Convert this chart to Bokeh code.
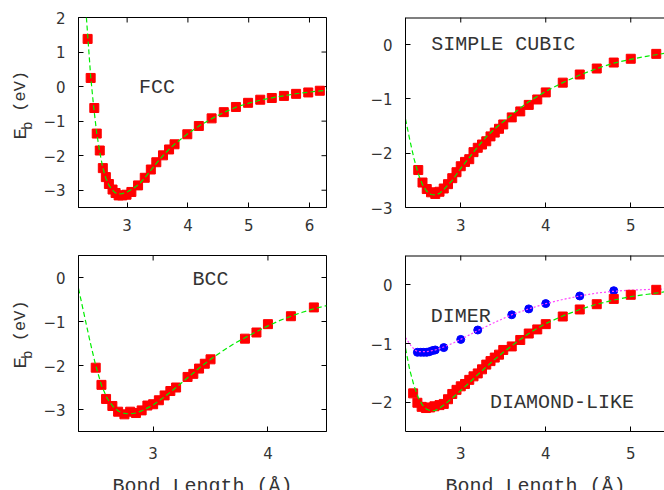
import math
from bokeh.plotting import figure
from bokeh.models import FixedTicker, Label, Range1d, CustomJSTickFormatter
from bokeh.layouts import column, row
from bokeh.embed import file_html
from bokeh.resources import INLINE
from bokeh.core.properties import value

# ---------------- data ----------------
# FCC
fcc_x = [2.35, 2.40, 2.46, 2.50, 2.55, 2.60, 2.65, 2.70, 2.76, 2.81, 2.86, 2.92, 2.99, 3.07,
         3.18, 3.29, 3.39, 3.48, 3.59, 3.69, 3.78, 3.99, 4.18, 4.39, 4.59, 4.79, 4.99, 5.19,
         5.38, 5.58, 5.78, 5.98, 6.17]
fcc_y = [1.38, 0.25, -0.62, -1.36, -1.85, -2.36, -2.62, -2.82, -2.98, -3.08, -3.15, -3.15, -3.13, -3.05,
         -2.86, -2.64, -2.40, -2.19, -1.99, -1.82, -1.67, -1.38, -1.14, -0.92, -0.74, -0.59, -0.47, -0.38,
         -0.33, -0.27, -0.21, -0.17, -0.12]
fcc_fit_x = [2.33, 2.40, 2.45, 2.50, 2.55, 2.60, 2.65, 2.70, 2.75, 2.80, 2.86, 2.92, 3.0, 3.1, 3.2,
             3.3, 3.4, 3.5, 3.6, 3.7, 3.8, 4.0, 4.2, 4.4, 4.6, 4.8, 5.0, 5.2, 5.4, 5.6, 5.8, 6.0, 6.3]
fcc_fit_y = [2.0, 0.3, -0.6, -1.35, -1.9, -2.35, -2.65, -2.85, -2.98, -3.07, -3.11, -3.10, -3.05, -2.95,
             -2.82, -2.62, -2.40, -2.18, -1.98, -1.80, -1.64, -1.36, -1.12, -0.92, -0.74, -0.59, -0.48,
             -0.39, -0.32, -0.26, -0.20, -0.16, -0.10]

# SIMPLE CUBIC
sc_x = [2.50, 2.55, 2.60, 2.65, 2.70, 2.75, 2.80, 2.85, 2.90, 2.95, 3.00, 3.05, 3.10, 3.15, 3.20,
        3.25, 3.30, 3.35, 3.40, 3.45, 3.50, 3.60, 3.70, 3.80, 3.90, 4.00, 4.20, 4.40, 4.60, 4.80,
        5.00, 5.30]
sc_y = [-2.31, -2.54, -2.66, -2.72, -2.75, -2.71, -2.65, -2.57, -2.46, -2.35, -2.24, -2.16, -2.11,
        -1.98, -1.90, -1.84, -1.78, -1.69, -1.62, -1.55, -1.47, -1.34, -1.23, -1.11, -1.01, -0.88,
        -0.70, -0.55, -0.44, -0.33, -0.26, -0.17]
sc_fit_x = [2.35, 2.40, 2.45, 2.50, 2.55, 2.60, 2.65, 2.70, 2.75, 2.80, 2.9, 3.0, 3.1, 3.2, 3.3,
            3.4, 3.5, 3.6, 3.7, 3.8, 4.0, 4.2, 4.4, 4.6, 4.8, 5.0, 5.2, 5.4]
sc_fit_y = [-1.37, -1.75, -2.10, -2.38, -2.58, -2.70, -2.76, -2.77, -2.74, -2.67, -2.50, -2.28,
            -2.08, -1.88, -1.70, -1.55, -1.42, -1.29, -1.17, -1.05, -0.86, -0.70, -0.56, -0.44,
            -0.34, -0.27, -0.21, -0.16]

# BCC
bcc_x = [2.50, 2.55, 2.59, 2.645, 2.695, 2.75, 2.80, 2.85, 2.90, 2.95, 3.00, 3.05, 3.10, 3.15,
         3.20, 3.30, 3.35, 3.40, 3.45, 3.50, 3.80, 3.90, 4.00, 4.20, 4.40]
bcc_y = [-2.05, -2.44, -2.76, -2.92, -3.05, -3.11, -3.05, -3.08, -3.02, -2.91, -2.88, -2.79, -2.68,
         -2.58, -2.50, -2.26, -2.19, -2.07, -1.96, -1.86, -1.39, -1.25, -1.06, -0.88, -0.68]
bcc_fit_x = [2.35, 2.40, 2.45, 2.50, 2.55, 2.60, 2.65, 2.70, 2.75, 2.80, 2.85, 2.90, 3.0, 3.1,
             3.2, 3.3, 3.4, 3.5, 3.6, 3.7, 3.8, 3.9, 4.0, 4.1, 4.2, 4.3, 4.4, 4.51]
bcc_fit_y = [-0.25, -0.85, -1.45, -2.00, -2.45, -2.75, -2.93, -3.04, -3.09, -3.10, -3.08, -3.03,
             -2.90, -2.71, -2.50, -2.28, -2.06, -1.86, -1.68, -1.51, -1.37, -1.23, -1.10, -0.98,
             -0.88, -0.79, -0.71, -0.64]

# DIMER
dim_x = [2.49, 2.53, 2.565, 2.60, 2.63, 2.67, 2.70, 2.80, 3.00, 3.20, 3.60, 3.80, 4.00, 4.40, 4.80]
dim_y = [-1.15, -1.15, -1.15, -1.15, -1.14, -1.12, -1.11, -1.07, -0.93, -0.77, -0.51, -0.41,
         -0.32, -0.19, -0.10]
dim_fit_x = [2.35, 2.42, 2.47, 2.5, 2.6, 2.7, 2.8, 2.9, 3.0, 3.2, 3.4, 3.6, 3.8, 4.0, 4.2, 4.4,
             4.6, 4.8, 5.0, 5.2, 5.4]
dim_fit_y = [-0.90, -1.05, -1.12, -1.14, -1.14, -1.11, -1.06, -1.00, -0.93, -0.78, -0.64, -0.51,
             -0.41, -0.32, -0.25, -0.19, -0.14, -0.11, -0.09, -0.08, -0.07]

# DIAMOND-LIKE
dia_x = [2.44, 2.49, 2.54, 2.59, 2.64, 2.69, 2.75, 2.80, 2.85, 2.90, 2.95, 3.00, 3.05, 3.10,
         3.15, 3.20, 3.25, 3.30, 3.35, 3.40, 3.45, 3.50, 3.60, 3.70, 3.80, 3.90, 4.00, 4.20,
         4.40, 4.60, 4.80, 5.00, 5.30]
dia_y = [-1.85, -2.01, -2.08, -2.10, -2.09, -2.07, -2.05, -2.03, -1.95, -1.86, -1.79, -1.73,
         -1.69, -1.62, -1.56, -1.51, -1.44, -1.36, -1.30, -1.24, -1.19, -1.11, -1.05, -0.94,
         -0.83, -0.76, -0.67, -0.54, -0.42, -0.33, -0.24, -0.17, -0.085]
dia_fit_x = [2.35, 2.40, 2.45, 2.50, 2.55, 2.60, 2.65, 2.70, 2.75, 2.80, 2.9, 3.0, 3.1, 3.2,
             3.3, 3.4, 3.5, 3.6, 3.7, 3.8, 3.9, 4.0, 4.2, 4.4, 4.6, 4.8, 5.0, 5.2, 5.4]
dia_fit_y = [-1.08, -1.45, -1.72, -1.92, -2.05, -2.12, -2.15, -2.14, -2.10, -2.05, -1.93, -1.80,
             -1.67, -1.53, -1.40, -1.27, -1.15, -1.04, -0.93, -0.83, -0.74, -0.66, -0.53, -0.42,
             -0.33, -0.26, -0.20, -0.16, -0.12]

# ticks
tl_xticks = [3, 4, 5, 6]
tl_yticks = [-3, -2, -1, 0, 1, 2]
tr_xticks = [3, 4, 5]
tr_yticks = [-3, -2, -1, 0]
bl_xticks = [3, 4]
bl_yticks = [-3, -2, -1, 0]
br_xticks = [3, 4, 5]
br_yticks = [-2, -1, 0]

XLABEL = "Bond Length (Å)"
YLABEL_MAIN = "E"
YLABEL_SUB = "b"
YLABEL_UNIT = "(eV)"

# ---------------- styling helpers ----------------
TICK_FONT = "DejaVu Sans"
TXT_FONT = "Liberation Mono"
TXT_COLOR = "#333333"
FMT = CustomJSTickFormatter(code="return tick < 0 ? '\u2212' + Math.abs(tick) : String(tick);")

RED = "#ff0000"
GREEN = "#00ee00"
BLUE = "#0000ff"
MAG = "#ff44ff"


def style_axis(ax, ticks, standoff):
    ax.ticker = FixedTicker(ticks=ticks)
    ax.major_tick_in = 5
    ax.major_tick_out = 0
    ax.minor_tick_line_color = None
    ax.axis_line_color = "black"
    ax.axis_line_width = 1
    ax.major_tick_line_color = "black"
    ax.major_tick_line_width = 1
    ax.formatter = FMT
    ax.major_label_text_font = TICK_FONT
    ax.major_label_text_font_size = "15px"
    ax.major_label_text_color = TXT_COLOR
    ax.major_label_standoff = standoff


def make_fig(width, height, xr, yr, xticks, yticks, mbl, mbr, mbt, mbb, xstand, right_side=True):
    p = figure(width=width, height=height, x_range=Range1d(*xr), y_range=Range1d(*yr),
               output_backend="svg", toolbar_location=None,
               min_border_left=mbl, min_border_right=mbr, min_border_top=mbt, min_border_bottom=mbb)
    p.xgrid.visible = False
    p.ygrid.visible = False
    style_axis(p.xaxis[0], xticks, xstand)
    style_axis(p.yaxis[0], yticks, 13)
    # mirrored ticks on the top edge (half of each dash is clipped by the frame)
    p.scatter(xticks, [yr[1]] * len(xticks), marker="dash", angle=math.pi / 2, size=10,
              line_color="black", line_width=1)
    if right_side:
        p.outline_line_color = "black"
        p.outline_line_width = 1
        p.scatter([xr[1]] * len(yticks), yticks, marker="dash", size=10,
                  line_color="black", line_width=1)
    else:
        p.outline_line_color = None
        p.line([xr[0], xr[1]], [yr[1], yr[1]], line_color="black", line_width=2)
    return p


def add_text(p, x, y, text, size="20px"):
    p.add_layout(Label(x=x, y=y, text=text, text_align="center", text_baseline="middle",
                       text_font=TXT_FONT, text_font_size=size, text_color=TXT_COLOR))


def squares(p, x, y):
    p.scatter(x, y, marker="square", size=9, fill_color=RED, line_color=RED)


def fit(p, x, y, color=GREEN, dash="5 3"):
    p.line(x, y, line_color=color, line_width=1.2, line_dash=dash)


def blank_fig(width, height):
    f = figure(width=width, height=height, x_range=Range1d(0, width), y_range=Range1d(0, height),
               output_backend="svg", toolbar_location=None, x_axis_location=None,
               y_axis_location=None, min_border=0)
    f.outline_line_color = None
    f.xgrid.visible = False
    f.ygrid.visible = False
    return f


def ylabel_fig(height, frame_center_from_top):
    # each piece is anchored at its lower end (text runs upward)
    f = blank_fig(40, height)
    yc = height - frame_center_from_top
    pieces = [(YLABEL_UNIT, 20, yc - 7, "17px"),
              (YLABEL_MAIN, 20, yc - 42, "19px"),
              (YLABEL_SUB, 27, yc - 30, "14px")]
    for txt, x, y, sz in pieces:
        f.text(x=[x], y=[y], text=[txt], angle=math.pi / 2, text_align="left",
               text_baseline="middle", text_font=value(TXT_FONT), text_font_size=sz,
               text_color=TXT_COLOR)
    return f


# ---------------- panels ----------------
tl_xr, tl_yr = (2.2, 6.28), (-3.5, 2.0)
p1 = make_fig(300, 240, tl_xr, tl_yr, tl_xticks, tl_yticks, 38, 14, 17, 33, 11)
squares(p1, fcc_x, fcc_y)
fit(p1, fcc_fit_x, fcc_fit_y)
add_text(p1, 3.49, -0.03, "FCC")

tr_xr, tr_yr = (2.35, 5.397), (-3.0, 0.5)
p2 = make_fig(324, 240, tr_xr, tr_yr, tr_xticks, tr_yticks, 65, 0, 17, 33, 11, right_side=False)
squares(p2, sc_x, sc_y)
fit(p2, sc_fit_x, sc_fit_y)
add_text(p2, 3.50, 0.0, "SIMPLE CUBIC")

bl_xr, bl_yr = (2.35, 4.51), (-3.5, 0.5)
p3 = make_fig(300, 226, bl_xr, bl_yr, bl_xticks, bl_yticks, 38, 14, 15, 35, 15)
squares(p3, bcc_x, bcc_y)
fit(p3, bcc_fit_x, bcc_fit_y)
add_text(p3, 3.50, -0.04, "BCC")

br_xr, br_yr = (2.35, 5.397), (-2.5, 0.5)
p4 = make_fig(324, 226, br_xr, br_yr, br_xticks, br_yticks, 65, 0, 15, 35, 15, right_side=False)
p4.scatter(dim_x, dim_y, marker="circle", size=8, fill_color=BLUE, line_color=BLUE)
fit(p4, dim_fit_x, dim_fit_y, color=MAG, dash="2 2")
squares(p4, dia_x, dia_y)
fit(p4, dia_fit_x, dia_fit_y)
add_text(p4, 3.0, -0.54, "DIMER")
add_text(p4, 4.19, -2.01, "DIAMOND-LIKE")

yl1 = ylabel_fig(240, 112)
yl2 = ylabel_fig(226, 103)

# x-axis titles, cut by the bottom edge of the window as in the original
xl = blank_fig(664, 24)
xl.text(x=[202, 535], y=[4, 4], text=[XLABEL, XLABEL], text_align="center",
        text_baseline="alphabetic", text_font=value(TXT_FONT), text_font_size="20px",
        text_color=TXT_COLOR)

layout = column(row(yl1, p1, p2), row(yl2, p3, p4), xl)

open("out.html", "w").write(file_html(layout, INLINE))
